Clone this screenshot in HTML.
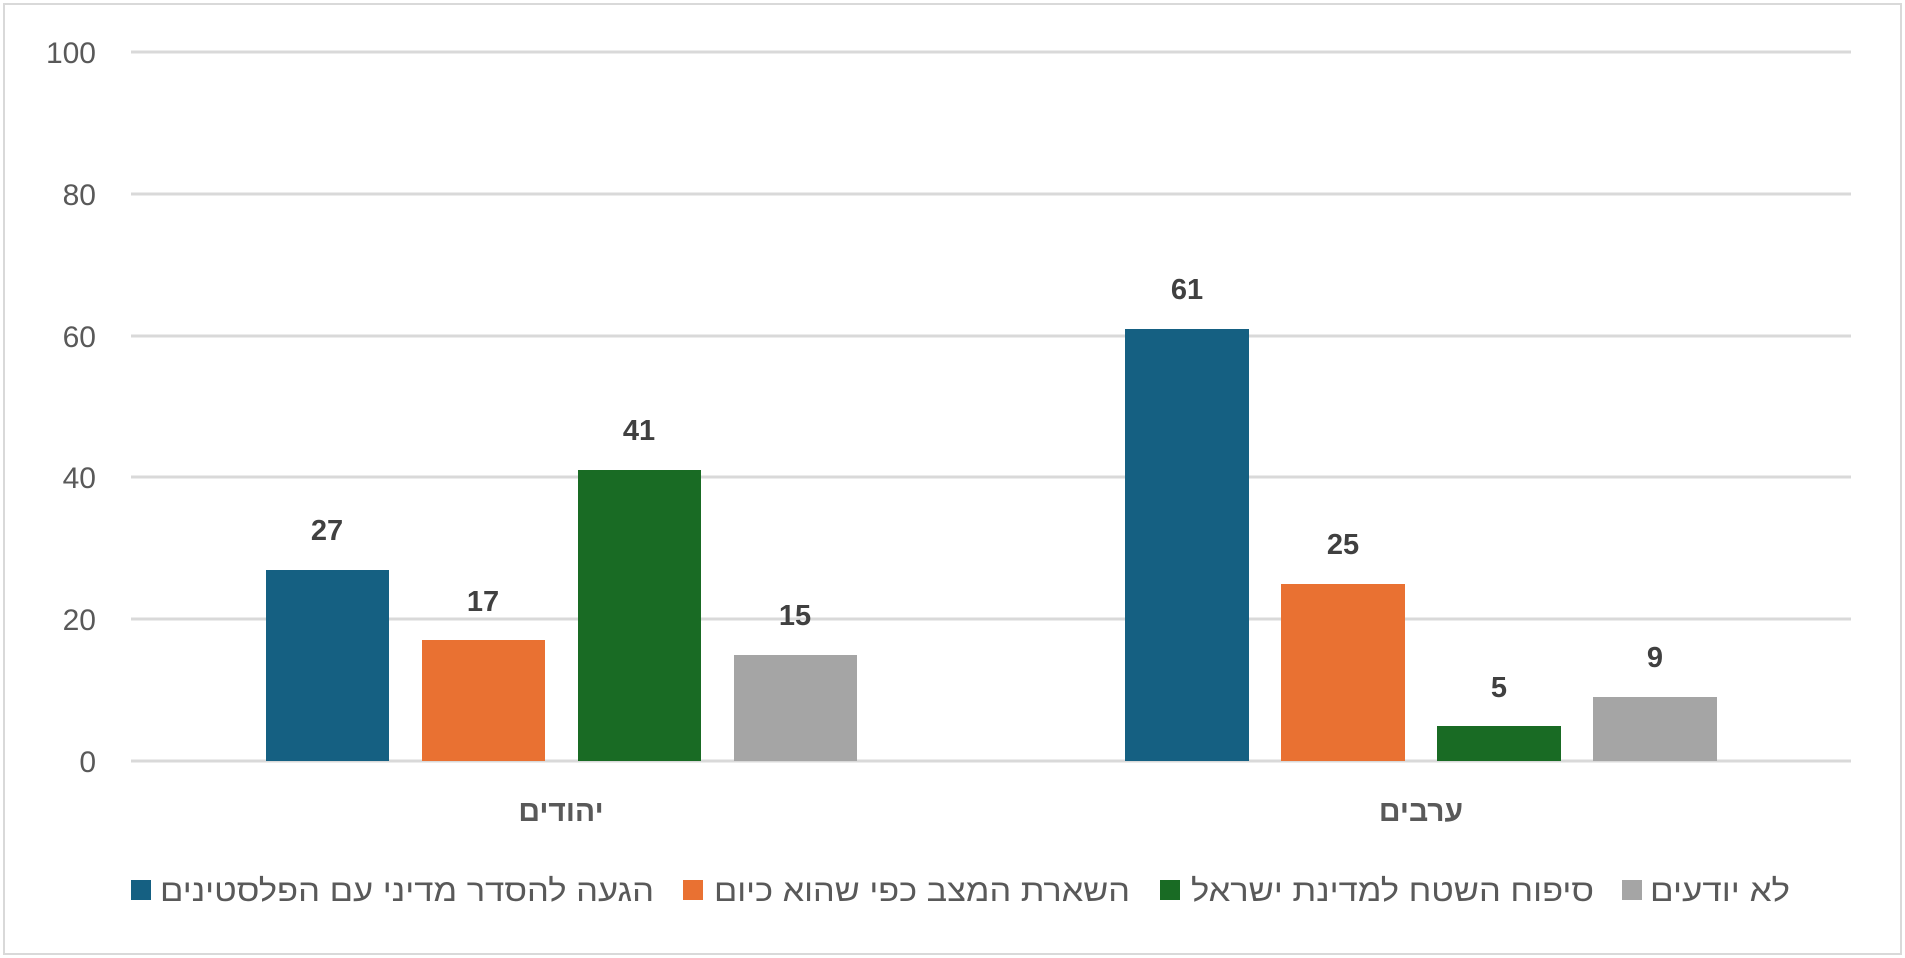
<!DOCTYPE html>
<html><head><meta charset="utf-8"><style>
html,body{margin:0;padding:0;background:#fff;}
svg{display:block;}
text{font-family:"Liberation Sans","DejaVu Sans",sans-serif;}
</style></head><body>
<svg width="1905" height="958" viewBox="0 0 1905 958" xmlns="http://www.w3.org/2000/svg">
<rect x="4" y="4" width="1897" height="950" fill="#fff" stroke="#d9d9d9" stroke-width="2"/>
<g stroke="#d9d9d9" stroke-width="3">
<line x1="131" x2="1851" y1="52" y2="52"/>
<line x1="131" x2="1851" y1="194" y2="194"/>
<line x1="131" x2="1851" y1="336" y2="336"/>
<line x1="131" x2="1851" y1="477" y2="477"/>
<line x1="131" x2="1851" y1="619" y2="619"/>
<line x1="131" x2="1851" y1="761" y2="761"/>
</g>
<g fill="#595959" font-size="30" text-anchor="end">
<text x="96" y="63">100</text>
<text x="96" y="205">80</text>
<text x="96" y="347">60</text>
<text x="96" y="488">40</text>
<text x="96" y="630">20</text>
<text x="96" y="772">0</text>
</g>
<g>
<rect x="266" y="570" width="123" height="191" fill="#156082"/>
<rect x="422" y="640" width="123" height="121" fill="#E97132"/>
<rect x="578" y="470" width="123" height="291" fill="#196B24"/>
<rect x="734" y="655" width="123" height="106" fill="#A5A5A5"/>
<rect x="1125" y="329" width="124" height="432" fill="#156082"/>
<rect x="1281" y="584" width="124" height="177" fill="#E97132"/>
<rect x="1437" y="726" width="124" height="35" fill="#196B24"/>
<rect x="1593" y="697" width="124" height="64" fill="#A5A5A5"/>
</g>
<g fill="#404040" font-size="29" font-weight="bold" text-anchor="middle">
<text x="327" y="540">27</text>
<text x="483" y="611">17</text>
<text x="639" y="440">41</text>
<text x="795" y="625">15</text>
<text x="1187" y="299">61</text>
<text x="1343" y="554">25</text>
<text x="1499" y="697">5</text>
<text x="1655" y="667">9</text>
</g>
<g fill="#595959" font-size="30" font-weight="bold" text-anchor="middle">
<text x="561" y="821">יהודים</text>
<text x="1421" y="821">ערבים</text>
</g>
<rect x="131" y="880" width="20" height="20" fill="#156082"/>
<rect x="683" y="880" width="20" height="20" fill="#E97132"/>
<rect x="1160" y="880" width="20" height="20" fill="#196B24"/>
<rect x="1622" y="880" width="20" height="20" fill="#A5A5A5"/>
<g fill="#595959" font-size="31">
<text x="160" y="901" textLength="494" lengthAdjust="spacingAndGlyphs">הגעה להסדר מדיני עם הפלסטינים</text>
<text x="714" y="901" textLength="416" lengthAdjust="spacingAndGlyphs">השארת המצב כפי שהוא כיום</text>
<text x="1191" y="901" textLength="403" lengthAdjust="spacingAndGlyphs">סיפוח השטח למדינת ישראל</text>
<text x="1650" y="901" textLength="140" lengthAdjust="spacingAndGlyphs">לא יודעים</text>
</g>
</svg>
</body></html>
